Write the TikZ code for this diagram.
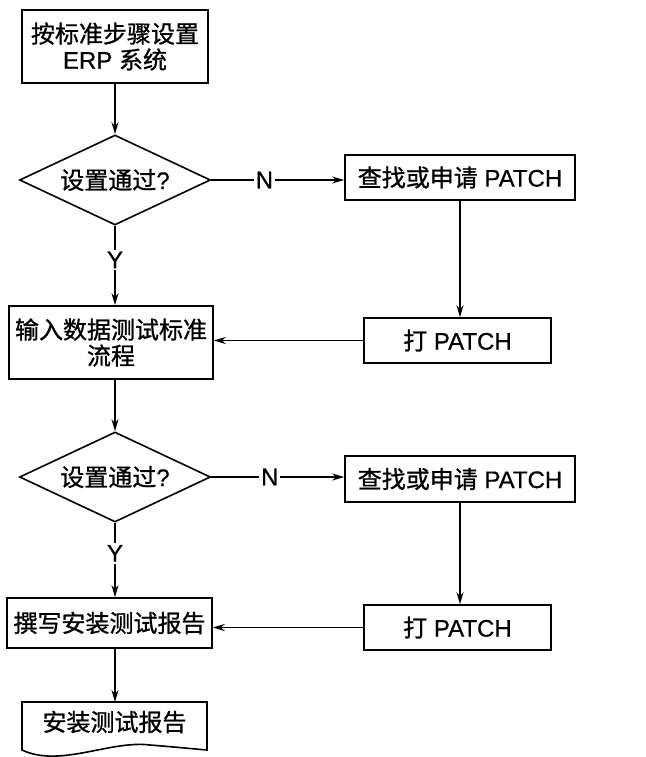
\documentclass[tikz,border=0pt]{standalone}
\usepackage{fontspec}
\setmainfont[FakeBold=0.6,AutoFakeBold=0.6]{Liberation Sans}
\newfontfamily\cjkbase[AutoFakeBold=1]{Noto Sans CJK SC}
\newcommand\cjk{\cjkbase\bfseries}
\usetikzlibrary{shapes.geometric,arrows.meta}
\begin{document}
\begin{tikzpicture}[x=1pt,y=-1pt,
  font=\fontsize{24}{26}\selectfont,
  every path/.style={line width=1.6pt},
  boxnode/.style={draw,rectangle,inner sep=0pt,align=center},
  decide/.style={draw,diamond,inner sep=0pt,aspect=2.12,minimum width=191pt,minimum height=90pt},
  arr/.style={-{Stealth[length=12pt,width=7pt]}},
  lbl/.style={fill=white,inner sep=2pt}]
\useasboundingbox (0,0) rectangle (645,757);
\fill[white] (0,0) rectangle (645,757);

\node[boxnode,minimum width=186pt,minimum height=73pt] (b1) at (115,46.5) {{\cjk 按标准步骤设置}\\ERP {\cjk 系统}};
\node[decide] (d1) at (115,180) {{\cjk 设置通过}?};
\node[boxnode,minimum width=230pt,minimum height=45pt] (b2) at (460,177.5) {{\cjk 查找或申请} PATCH};
\node[boxnode,minimum width=187pt,minimum height=45pt] (b3) at (457.5,340.5) {{\cjk 打} PATCH};
\node[boxnode,minimum width=204pt,minimum height=73pt] (b4) at (111,342.5) {{\cjk 输入数据测试标准}\\{\cjk 流程}};
\node[decide] (d2) at (115,477) {{\cjk 设置通过}?};
\node[boxnode,minimum width=230pt,minimum height=46pt] (b5) at (460,479) {{\cjk 查找或申请} PATCH};
\node[boxnode,minimum width=187pt,minimum height=45pt] (b6) at (457.5,627.5) {{\cjk 打} PATCH};
\node[boxnode,minimum width=205pt,minimum height=50pt] (b7) at (109.5,623) {\cjk 撰写安装测试报告};
\node[inner sep=0pt,minimum width=185pt,minimum height=40pt] (doc) at (114.5,722) {\cjk 安装测试报告};
\coordinate (dtl) at (22,702);
\coordinate (dtr) at (207,702);
\draw (dtl) -- (22,750) .. controls (60,768) and (110,740) .. (150,745) .. controls (175,747) and (195,749) .. (207,750) -- (dtr) -- cycle;

\draw[arr] (b1.south) -- (d1.north);
\draw[arr] (d1.east) -- node[lbl,pos=0.40]{N} (d1.east -| b2.west);
\draw[arr] (b2.south) -- (b2.south |- b3.north);
\draw[arr] (b3.west) -- (b3.west -| b4.east);
\draw[arr] (d1.south) -- node[lbl,pos=0.43]{Y} (d1.south |- b4.north);
\draw[arr] (b4.south -| d1.south) -- (d2.north);
\draw[arr] (d2.east) -- node[lbl,pos=0.44]{N} (d2.east -| b5.west);
\draw[arr] (b5.south) -- (b5.south |- b6.north);
\draw[arr] (b6.west) -- (b6.west -| b7.east);
\draw[arr] (d2.south) -- node[lbl,pos=0.41]{Y} (d2.south |- b7.north);
\draw[arr] (b7.south -| d2.south) -- (dtl -| d2.south);
\end{tikzpicture}
\end{document}
